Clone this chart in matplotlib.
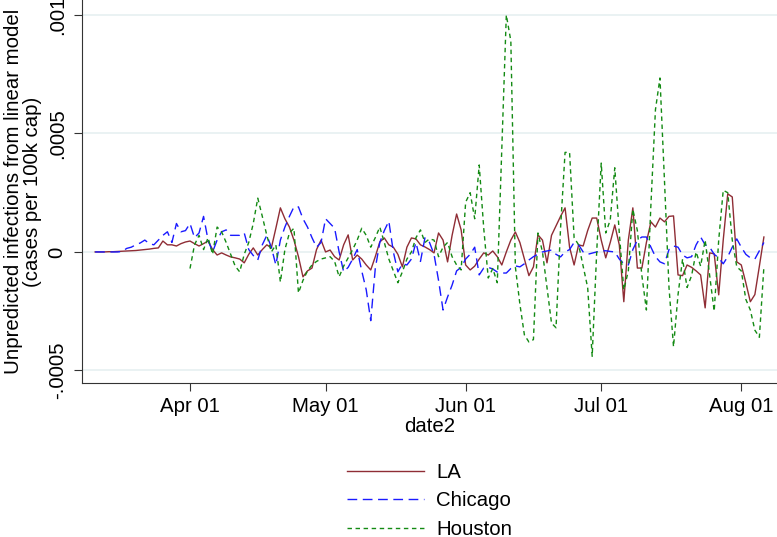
import numpy as np
import pandas as pd
import matplotlib
matplotlib.use('Agg')
import matplotlib.pyplot as plt
import matplotlib.dates as mdates

plt.rcParams['font.family'] = ['Liberation Sans', 'DejaVu Sans']

# daily series, Mar 11 - Aug 6 2020, values in units of 1e-4 cases per 100k cap
dates = pd.date_range('2020-03-11', periods=149, freq='D')

la = [0.00, 0.00, 0.00, 0.01, 0.01, 0.02, 0.03, 0.04, 0.05, 0.06,
      0.08, 0.10, 0.12, 0.15, 0.17, 0.46, 0.30, 0.30, 0.25, 0.35,
      0.42, 0.46, 0.35, 0.25, 0.35, 0.46, 0.10, -0.13, -0.04, -0.13,
      -0.21, -0.25, -0.30, -0.46, -0.10, 0.17, -0.13, 0.10, 0.30, 0.17,
      1.00, 1.86, 1.40, 1.05, 0.50, -0.20, -1.05, -0.80, -0.68, 0.10,
      0.50, 0.00, 0.08, -0.20, -0.34, 0.30, 0.72, -0.34, -0.13, -0.30,
      -0.55, -0.76, -0.20, 0.42, 0.59, 0.30, 0.20, -0.10, -0.63, 0.20,
      0.59, 0.55, 0.30, 0.21, 0.10, -0.04, 0.80, 0.50, -0.42, 0.70,
      1.60, 0.93, -0.55, -0.76, -0.60, -0.30, -0.04, -0.13, 0.04, -0.20,
      -0.55, 0.00, 0.50, 0.84, 0.40, -0.30, -1.00, -0.63, 0.72, 0.50,
      -0.46, 0.70, 1.10, 1.50, 1.86, 0.20, -0.55, 0.30, 0.25, 0.90,
      1.43, 1.43, 0.50, -0.25, 0.40, 1.14, 0.30, -2.10, 0.50, 1.86,
      -0.68, -0.68, 0.40, 1.27, 1.05, 1.43, 1.27, 1.50, 1.52, -0.97,
      -1.00, -0.55, -0.65, -0.80, -0.97, -2.36, -0.04, -0.08, -1.81, 0.50,
      2.45, 2.32, -0.42, -0.55, -1.30, -2.10, -1.80, -0.60, 0.63]

chicago = [0.00, 0.00, 0.00, 0.00, 0.00, 0.00, 0.02, 0.15, 0.20, 0.30,
           0.38, 0.50, 0.35, 0.30, 0.50, 0.70, 0.85, 0.40, 1.20, 0.85,
           0.90, 1.20, 0.60, 0.80, 1.50, 0.50, 0.00, 0.50, 0.85, 0.93,
           0.70, 0.70, 0.70, 0.80, 0.10, -0.15, -0.34, 0.30, 0.70, 0.20,
           -0.55, 0.50, 1.05, 1.50, 1.90, 1.90, 1.40, 1.05, 0.60, 0.20,
           0.40, 1.40, 1.20, 1.00, 0.00, -0.84, -0.65, -0.30, 0.10, -0.80,
           -1.60, -2.90, -0.70, 0.40, 0.90, 1.30, 0.00, -0.84, -0.50, -0.55,
           -0.30, 0.40, -0.40, 0.60, 0.40, -0.10, -1.20, -2.45, -1.90, -1.40,
           -0.80, -0.65, -0.30, -0.10, 0.20, -0.97, -0.68, -0.65, -0.72, -0.85,
           -0.89, -0.89, -0.70, -0.59, -0.63, -0.50, -0.34, -0.20, -0.10, 0.00,
           0.04, 0.08, -0.10, -0.21, 0.00, 0.10, 0.40, 0.30, 0.00, -0.10,
           -0.05, 0.00, 0.04, 0.05, 0.02, 0.00, -0.30, -0.50, -0.55, 0.10,
           0.50, 0.63, 0.63, 0.20, -0.20, -0.42, -0.50, 0.10, 0.25, 0.20,
           -0.13, -0.25, -0.20, 0.30, 0.63, 0.30, 0.20, -0.10, -0.25, -0.50,
           -0.20, 0.20, 0.55, 0.20, -0.10, -0.25, -0.30, 0.05, 0.40]

# Houston has no values before Apr 1
houston = [np.nan] * 21 + [
           -0.70, 0.30, 0.70, 0.10, 0.60, -0.10, 1.05, 0.85, 0.40,
           -0.10, -0.60, -0.84, -0.10, 0.40, 1.20, 2.27, 1.50, 0.70, 0.00,
           0.30, -1.27, 0.10, 0.80, 1.00, -1.73, -1.20, -0.80, -0.55, -0.40,
           -0.30, -0.25, -0.20, -0.40, -1.05, -0.60, -0.25, 0.10, 0.50, 1.00,
           0.70, 0.20, 0.60, 1.05, 0.40, -0.30, -0.80, -1.30, -0.84, -0.30,
           0.00, 0.60, 0.93, 0.40, 0.55, 0.50, -0.20, 0.20, 0.40, -0.20,
           -0.55, -0.76, 2.10, 2.50, 1.40, 3.67, 1.00, -1.10, -0.70, -1.30,
           4.30, 10.0, 8.90, -0.63, -2.20, -3.50, -3.80, -3.70, 0.80, 0.00,
           -1.50, -3.00, -3.20, 1.00, 4.20, 4.20, 0.60, 0.30, -0.60, -1.50,
           -4.40, 0.00, 3.75, 0.80, 1.35, 3.55, 0.80, -1.60, -0.80, 1.80,
           0.90, -1.00, -2.45, 2.00, 6.00, 7.34, 3.00, -1.50, -4.00, -1.80,
           -0.30, -1.50, -1.00, 0.00, -0.60, 0.50, -1.00, -2.50, 0.50, 2.60,
           2.50, 0.50, -0.63, -0.80, -2.00, -2.45, -3.30, -3.60, -0.63]

data = pd.DataFrame({'LA': la, 'Chicago': chicago, 'Houston': houston}, index=dates) * 1e-4

ytick_vals = [-0.0005, 0, 0.0005, 0.001]
ytick_labels = ['-.0005', '0', '.0005', '.001']
xtick_dates = pd.to_datetime(['2020-04-01', '2020-05-01', '2020-06-01', '2020-07-01', '2020-08-01'])

fs = 14.7
fig = plt.figure(figsize=(7.77, 5.37), dpi=100)
ax = fig.add_axes([82/777, 154/537, 695/777, 383/537])

ax.plot(data.index, data['LA'], color='#8f2d35', lw=1.0, label='LA')
ax.plot(data.index, data['Chicago'], color='#1a1aff', lw=1.0, dashes=(7, 4), label='Chicago')
ax.plot(data.index, data['Houston'], color='#138a13', lw=1.0, dashes=(3.2, 2.6), label='Houston')

ax.set_xlim(dates[0] - pd.Timedelta(days=2.9), dates[0] + pd.Timedelta(days=150.9))
ax.set_ylim(-5.53e-4, 10.63e-4)

ax.set_yticks(ytick_vals)
ax.set_yticklabels(ytick_labels, rotation=90, va='center', fontsize=fs)
ax.set_xticks(xtick_dates)
ax.xaxis.set_major_formatter(mdates.DateFormatter('%b %d'))
ax.tick_params(axis='x', labelsize=fs, length=6, width=0.8, color='#333333', pad=4)
ax.tick_params(axis='y', length=6, width=0.8, color='#333333', pad=5)

ax.yaxis.grid(True, color='#eaf2f3', lw=1.4)
ax.set_axisbelow(True)
for s in ['top', 'right']:
    ax.spines[s].set_visible(False)
for s in ['left', 'bottom']:
    ax.spines[s].set_color('#333333')
    ax.spines[s].set_linewidth(0.8)

ax.set_xlabel('date2', fontsize=fs, labelpad=1)
ax.set_ylabel('Unpredicted infections from linear model\n(cases per 100k cap)',
              fontsize=fs, labelpad=4, linespacing=1.0)

fig.legend(loc='upper center', bbox_to_anchor=(0.553, 0.165), frameon=False,
           fontsize=fs, handlelength=3.75, handletextpad=0.6, labelspacing=0.48,
           borderpad=0.2)

fig.savefig('out.png', dpi=100)
